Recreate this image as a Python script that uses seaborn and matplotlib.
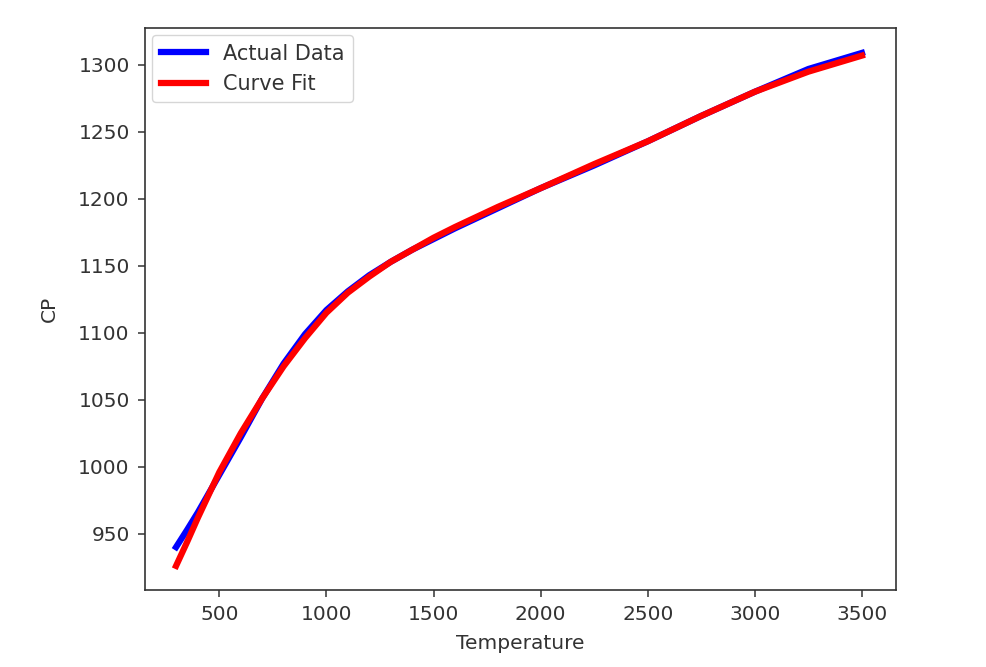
import numpy as np
import pandas as pd
import matplotlib
matplotlib.use("Agg")
import matplotlib.pyplot as plt
import seaborn as sns

temperature = [298, 350, 400, 500, 600, 700, 800, 900, 1000, 1100, 1200, 1300, 1400,
               1500, 1600, 1800, 2000, 2250, 2500, 2750, 3000, 3250, 3500]
cp_actual = [940, 953, 966, 994, 1022, 1051, 1077, 1099, 1117, 1131, 1143, 1153, 1162,
             1170, 1178, 1193, 1208, 1225, 1243, 1262, 1280, 1297, 1309]
cp_fit = [926, 944, 962, 996, 1025, 1051, 1075, 1096, 1115, 1130, 1142, 1153, 1162,
          1171, 1179, 1194, 1208, 1226, 1243, 1262, 1280, 1295, 1307]

sns.set_style("ticks")
plt.rcParams['font.family'] = ['DejaVu Sans']

fig = plt.figure(figsize=(9.87, 6.67), dpi=100)
ax = fig.add_axes([145/987, 1-590/667, (896-145)/987, (590-28)/667])

df_a = pd.DataFrame({"Temperature": temperature, "CP": cp_actual})
df_f = pd.DataFrame({"Temperature": temperature, "CP": cp_fit})
sns.lineplot(data=df_a, x="Temperature", y="CP", color="blue", lw=4.5,
             label="Actual Data", ax=ax)
sns.lineplot(data=df_f, x="Temperature", y="CP", color="red", lw=4.5,
             label="Curve Fit", ax=ax)
for ln in ax.lines:
    ln.set_solid_capstyle("projecting")
    ln.set_solid_joinstyle("round")

for s in ax.spines.values():
    s.set_visible(True)
    s.set_color("#333333")
    s.set_linewidth(1.2)
fs = 14.5
ax.tick_params(labelsize=fs, direction="out", length=5, width=1.1, pad=6,
               color="#333333", labelcolor="#333333")
ax.set_xlabel("Temperature", fontsize=fs, color="#333333", labelpad=7)
ax.set_ylabel("CP", fontsize=fs, color="#333333", labelpad=14)
ax.set_xticks([500, 1000, 1500, 2000, 2500, 3000, 3500])
ax.set_yticks([950, 1000, 1050, 1100, 1150, 1200, 1250, 1300])
ax.set_xlim(153, 3659)
ax.set_ylim(908, 1327.6)
leg = ax.legend(loc="upper left", fontsize=15, frameon=True, handlelength=2.2,
                borderaxespad=0.35)
leg.get_frame().set_edgecolor("#cccccc")
for t in leg.get_texts():
    t.set_color("#333333")

fig.savefig("out.png", dpi=100)
